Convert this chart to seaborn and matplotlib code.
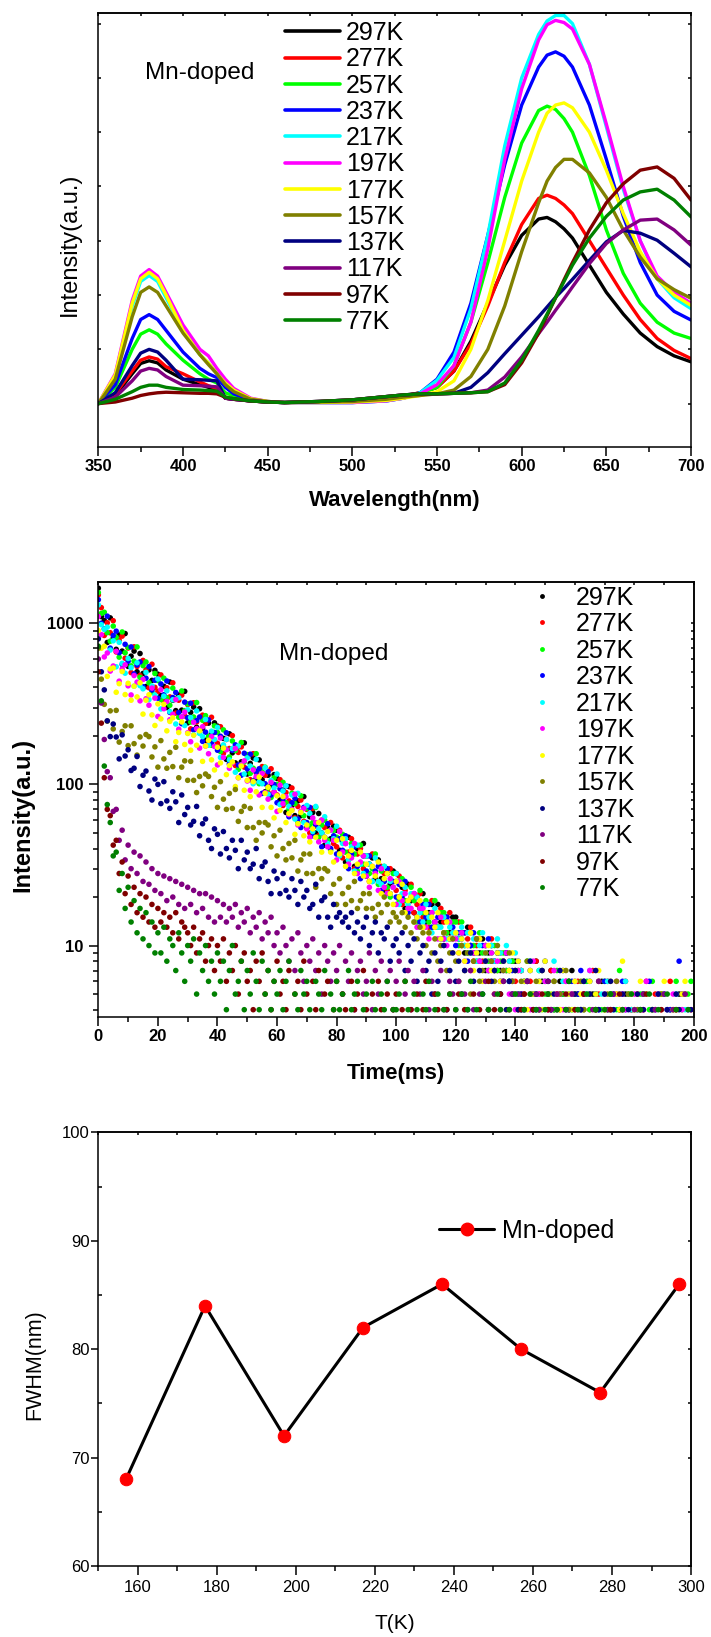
import numpy as np
import pandas as pd
import matplotlib
matplotlib.use("Agg")
import matplotlib.pyplot as plt
from matplotlib.lines import Line2D
from matplotlib.ticker import MultipleLocator, LogLocator, NullFormatter
import seaborn as sns

# ---------------- data ----------------
temps = ["297K", "277K", "257K", "237K", "217K", "197K", "177K", "157K", "137K", "117K", "97K", "77K"]
colors = ["#000000", "#FF0000", "#00FF00", "#0000FF", "#00FFFF", "#FF00FF",
          "#FFFF00", "#808000", "#000080", "#800080", "#800000", "#008000"]

# Panel 1: PL spectra (arbitrary units)
wavelength = [350, 360, 370, 375, 380, 385, 390, 400, 410, 415, 420, 425, 430, 440, 450,
              460, 480, 500, 520, 530, 540, 550, 560, 570, 580, 590, 600, 610, 615, 620,
              625, 630, 640, 650, 660, 670, 680, 690, 700]
I_297 = [0, 0.15, 0.55, 0.74, 0.79, 0.75, 0.62, 0.45, 0.35, 0.30, 0.25, 0.10, 0.08, 0.05, 0.03,
         0.02, 0.03, 0.05, 0.10, 0.14, 0.20, 0.30, 0.60, 1.15, 1.85, 2.55, 3.10, 3.40, 3.43, 3.35, 3.22, 3.05, 2.55, 2.05, 1.65, 1.30, 1.05, 0.88, 0.77]
I_277 = [0, 0.18, 0.60, 0.80, 0.86, 0.82, 0.68, 0.55, 0.40, 0.33, 0.28, 0.10, 0.08, 0.05, 0.03,
         0.02, 0.03, 0.05, 0.10, 0.14, 0.20, 0.30, 0.60, 1.10, 1.80, 2.60, 3.30, 3.78, 3.84, 3.78, 3.66, 3.50, 3.00, 2.50, 2.00, 1.55, 1.20, 0.98, 0.83]
I_257 = [0, 0.30, 1.00, 1.28, 1.36, 1.28, 1.10, 0.80, 0.55, 0.45, 0.38, 0.20, 0.14, 0.06, 0.03,
         0.02, 0.03, 0.04, 0.08, 0.12, 0.18, 0.30, 0.70, 1.50, 2.60, 3.80, 4.80, 5.40, 5.48, 5.42, 5.25, 5.00, 4.20, 3.20, 2.40, 1.85, 1.50, 1.30, 1.20]
I_237 = [0, 0.35, 1.20, 1.55, 1.64, 1.55, 1.35, 0.95, 0.65, 0.55, 0.48, 0.30, 0.18, 0.07, 0.03,
         0.02, 0.02, 0.02, 0.05, 0.10, 0.20, 0.45, 0.95, 1.85, 3.10, 4.40, 5.50, 6.20, 6.42, 6.48, 6.40, 6.20, 5.50, 4.50, 3.45, 2.60, 2.00, 1.70, 1.54]
I_217 = [0, 0.52, 1.80, 2.25, 2.36, 2.25, 1.95, 1.35, 0.90, 0.75, 0.55, 0.38, 0.25, 0.09, 0.04,
         0.02, 0.02, 0.02, 0.05, 0.10, 0.20, 0.43, 0.85, 1.75, 3.10, 4.75, 6.00, 6.80, 7.05, 7.15, 7.15, 7.00, 6.25, 5.10, 3.95, 3.00, 2.30, 1.95, 1.75]
I_197 = [0, 0.55, 1.90, 2.35, 2.47, 2.35, 2.05, 1.45, 1.00, 0.88, 0.65, 0.45, 0.28, 0.10, 0.04,
         0.02, 0.02, 0.02, 0.05, 0.10, 0.18, 0.35, 0.70, 1.50, 2.85, 4.50, 5.80, 6.70, 6.98, 7.06, 7.02, 6.90, 6.25, 5.15, 4.00, 3.00, 2.35, 2.05, 1.85]
I_177 = [0, 0.53, 1.85, 2.30, 2.42, 2.30, 2.00, 1.35, 0.90, 0.75, 0.55, 0.38, 0.25, 0.09, 0.04,
         0.02, 0.02, 0.03, 0.06, 0.10, 0.15, 0.22, 0.42, 1.00, 1.90, 3.00, 4.10, 5.00, 5.35, 5.50, 5.54, 5.45, 5.00, 4.30, 3.50, 2.80, 2.30, 2.00, 1.81]
I_157 = [0, 0.45, 1.60, 2.05, 2.15, 2.05, 1.80, 1.30, 0.90, 0.72, 0.55, 0.35, 0.22, 0.08, 0.04,
         0.02, 0.03, 0.04, 0.08, 0.12, 0.15, 0.18, 0.25, 0.50, 1.00, 1.80, 2.80, 3.70, 4.10, 4.35, 4.50, 4.50, 4.25, 3.80, 3.20, 2.70, 2.30, 2.10, 1.94]
I_137 = [0, 0.20, 0.70, 0.93, 1.00, 0.95, 0.80, 0.45, 0.44, 0.43, 0.42, 0.10, 0.08, 0.05, 0.03,
         0.02, 0.04, 0.07, 0.13, 0.16, 0.18, 0.18, 0.19, 0.30, 0.57, 0.92, 1.26, 1.60, 1.78, 1.96, 2.12, 2.29, 2.64, 2.98, 3.19, 3.14, 3.01, 2.77, 2.52]
I_117 = [0, 0.12, 0.42, 0.60, 0.65, 0.62, 0.50, 0.34, 0.33, 0.32, 0.31, 0.10, 0.08, 0.05, 0.03,
         0.02, 0.04, 0.07, 0.13, 0.16, 0.18, 0.18, 0.19, 0.20, 0.25, 0.49, 0.86, 1.29, 1.50, 1.72, 1.93, 2.15, 2.58, 2.95, 3.20, 3.38, 3.40, 3.20, 2.92]
I_97 = [0, 0.03, 0.10, 0.15, 0.18, 0.20, 0.21, 0.20, 0.19, 0.19, 0.18, 0.12, 0.09, 0.05, 0.03,
        0.02, 0.04, 0.07, 0.13, 0.16, 0.18, 0.18, 0.19, 0.20, 0.22, 0.35, 0.75, 1.30, 1.62, 1.95, 2.28, 2.60, 3.20, 3.70, 4.05, 4.30, 4.36, 4.15, 3.75]
I_77 = [0, 0.08, 0.22, 0.30, 0.34, 0.34, 0.30, 0.26, 0.25, 0.24, 0.23, 0.12, 0.09, 0.05, 0.03,
        0.02, 0.04, 0.07, 0.13, 0.16, 0.18, 0.18, 0.19, 0.20, 0.22, 0.38, 0.80, 1.35, 1.65, 1.95, 2.25, 2.55, 3.05, 3.45, 3.75, 3.90, 3.95, 3.75, 3.44]
spectra = [I_297, I_277, I_257, I_237, I_217, I_197, I_177, I_157, I_137, I_117, I_97, I_77]

# Panel 2: decay counts, one value per ms from t = 0 to 199 ms
dec_297 = [1650,1100,1040,760,1080,808,689,847,672,863,540,625,672,500,649,488,405,514,442,510,
           483,356,406,300,432,333,287,359,289,378,241,280,302,226,295,223,188,240,207,241,
           230,170,193,143,206,157,136,171,138,181,116,135,146,109,142,107,90,114,99,115,
           109,80,92,67,97,74,64,79,64,84,54,63,67,50,66,50,42,54,46,55,
           52,39,44,33,47,36,31,40,32,43,27,32,35,26,34,26,22,28,24,29,
           28,20,23,17,24,19,16,20,17,21,14,16,18,13,18,14,11,15,12,15,
           15,11,12,9,13,10,9,11,9,11,7,9,10,7,9,7,6,9,7,8,
           8,5,7,4,6,3,5,8,4,6,3,5,7,4,3,6,5,2,4,7,
           3,5,4,6,3,2,5,4,3,6,2,4,5,3,2,4,3,5,2,4,
           3,2,4,5,2,3,4,2,3,5,2,3,4,2,3,5,2,3,2,3]
dec_277 = [1500,1250,840,1007,873,1037,664,785,832,607,702,494,714,540,473,588,515,398,557,400,
           378,478,328,398,349,427,277,333,358,266,313,221,321,244,215,269,239,186,261,189,
           180,228,156,190,167,201,131,158,171,128,151,107,155,118,103,129,114,89,125,90,
           86,107,74,89,79,95,62,73,80,59,70,50,71,55,48,60,54,42,58,43,
           41,52,35,43,38,46,30,37,40,30,36,25,37,28,25,31,28,22,30,23,
           22,27,18,22,19,24,16,18,21,15,18,13,19,14,13,17,14,12,16,12,
           12,14,10,12,11,13,8,10,11,8,10,7,11,8,7,9,8,7,8,6,
           6,4,7,5,3,6,4,8,5,3,6,4,7,3,5,4,2,6,5,3,
           4,6,3,5,2,4,7,3,5,2,4,6,3,2,5,4,3,6,2,4,
           3,5,2,4,6,3,2,5,3,4,2,3,6,2,4,3,5,2,3,4]
dec_257 = [1550,1150,1170,874,774,960,818,616,883,656,709,544,582,713,462,546,575,427,373,488,
           441,336,456,345,310,396,341,261,380,287,316,244,262,322,210,250,267,199,175,231,
           210,160,218,165,148,186,162,124,182,138,153,117,126,155,101,120,128,95,83,110,
           100,76,103,77,70,88,76,58,85,64,71,55,58,72,47,56,60,45,39,52,
           47,37,49,38,34,43,37,29,42,32,36,28,30,37,24,29,31,23,20,28,
           25,19,26,19,17,23,19,14,22,16,19,14,16,19,13,16,16,12,11,14,
           14,10,14,10,9,12,10,8,12,9,10,8,9,10,7,8,9,7,6,8,
           5,7,4,6,8,3,5,4,7,2,5,6,3,4,7,2,5,3,6,4,
           5,3,4,2,6,4,3,5,2,4,6,3,5,2,4,7,3,2,5,3,
           4,2,5,3,2,4,6,2,3,5,2,4,3,2,6,3,4,2,5,6]
dec_237 = [1400,1000,922,1107,701,840,893,657,555,740,581,713,485,551,575,404,456,538,385,443,
           343,420,360,438,280,346,372,279,238,324,259,319,218,249,262,185,211,251,180,210,
           163,199,172,209,134,163,176,132,114,156,125,154,105,120,125,88,101,120,86,100,
           77,94,81,98,63,77,82,61,54,72,58,72,48,56,58,41,47,57,40,48,
           37,46,39,48,30,37,41,31,26,36,29,36,25,29,31,22,25,30,21,25,
           20,24,20,25,16,20,21,15,14,18,15,18,13,14,15,11,12,15,11,13,
           10,12,11,12,8,10,12,9,8,10,8,11,8,8,9,6,8,9,6,7,
           5,8,4,6,3,7,5,4,6,3,8,5,4,6,2,5,7,3,4,6,
           3,5,7,4,2,6,3,5,4,2,6,3,4,5,2,3,6,4,2,5,
           3,4,2,5,3,6,2,4,3,2,5,3,4,2,3,8,5,2,4,3]
dec_217 = [1300,980,918,946,682,778,537,762,564,490,605,530,407,569,410,392,496,336,408,359,
           451,294,353,381,283,335,237,345,263,232,291,260,203,286,207,198,253,175,214,190,
           226,147,176,190,142,167,119,173,132,116,146,130,101,143,104,101,127,87,106,95,
           116,75,91,98,73,86,61,88,67,58,74,66,51,73,53,50,63,43,52,46,
           55,36,43,46,34,41,29,42,32,28,36,32,25,35,25,24,31,21,25,23,
           28,18,21,23,18,21,14,20,16,14,18,15,12,17,13,13,15,11,13,12,
           12,11,13,10,12,9,11,8,10,12,9,7,10,8,11,9,7,10,8,6,
           9,5,7,4,6,8,3,5,7,4,6,3,5,8,4,2,6,3,5,4,
           6,3,4,2,5,7,3,4,2,5,3,6,2,4,3,5,2,6,3,4,
           2,4,3,5,2,3,4,2,5,3,2,4,3,2,5,3,2,4,3,2]
dec_197 = [1100,850,618,654,505,543,670,437,520,552,409,359,474,431,330,448,340,310,396,343,
           264,387,295,327,252,272,336,220,263,281,209,184,243,222,168,228,173,155,198,172,
           132,194,147,164,126,136,167,110,132,140,105,92,123,112,86,117,89,81,103,89,
           68,99,76,84,65,70,87,56,68,71,53,47,62,58,44,60,45,41,52,45,
           34,51,38,43,32,35,43,28,33,36,27,23,31,28,22,30,23,21,26,23,
           18,25,19,21,17,17,21,13,17,17,13,11,16,14,11,15,11,10,14,11,
           11,9,12,8,10,7,9,11,8,6,10,7,9,5,8,6,7,9,5,6,
           4,7,5,3,6,4,8,2,5,3,6,4,3,7,2,5,4,6,3,5,
           6,2,4,5,3,7,2,4,6,3,5,2,4,3,6,2,5,4,3,2,
           5,3,2,4,6,3,2,4,5,2,3,4,2,5,3,2,4,3,2,3]
dec_177 = [900,700,720,468,520,528,373,422,502,361,424,333,407,349,427,273,333,360,270,232,
           316,255,314,215,246,259,184,210,244,177,207,163,202,175,215,139,173,188,142,123,
           170,136,168,115,131,138,97,110,130,92,106,84,104,90,111,72,88,96,72,62,
           85,69,84,58,66,69,49,57,67,48,56,44,53,47,58,38,47,51,38,33,
           45,37,46,31,36,39,28,32,38,27,32,25,31,27,33,21,26,28,21,18,
           25,20,24,16,19,20,14,15,19,13,16,12,15,13,16,11,12,14,11,9,
           12,9,11,8,10,12,7,9,11,6,8,10,7,5,9,6,8,4,7,9,
           5,8,3,6,4,7,5,2,6,4,8,3,5,6,2,4,7,3,5,4,
           6,3,5,4,2,6,3,5,7,2,4,3,6,2,5,4,8,3,2,5,
           4,2,6,3,5,2,4,3,2,5,6,3,2,4,3,2,5,6,3,2]
dec_157 = [700,450,314,247,286,221,288,183,213,231,174,231,179,152,197,173,204,198,148,171,
           128,187,144,126,158,129,170,110,128,140,106,139,106,89,112,98,116,112,84,96,
           72,104,81,70,88,71,93,59,68,73,54,71,54,45,58,50,58,56,41,48,
           36,52,40,34,43,35,45,29,34,37,28,37,28,23,30,26,30,29,21,24,
           18,26,21,18,23,19,25,17,19,21,17,21,17,15,18,16,20,18,14,16,
           15,14,16,13,15,12,14,11,13,12,10,12,9,11,8,10,12,7,9,11,
           8,6,10,7,9,5,8,11,6,7,9,4,8,6,10,5,7,3,9,6,
           7,4,6,3,8,5,2,6,4,7,3,5,4,6,2,5,3,7,4,2,
           5,3,6,4,2,5,3,4,6,2,3,5,4,2,6,3,4,2,5,3,
           2,4,3,5,2,3,4,2,3,5,2,3,2,4,3,2,3,5,2,3]
dec_137 = [800,500,386,248,198,237,197,144,203,150,164,122,126,149,97,114,121,91,80,108,
           100,76,104,79,71,90,78,58,86,65,72,56,59,73,48,57,61,45,40,53,
           49,37,51,40,35,45,39,30,45,34,38,30,32,40,26,31,33,25,21,29,
           26,21,28,22,20,26,22,18,25,20,22,17,18,24,15,19,20,15,13,18,
           15,16,14,15,13,16,12,14,11,13,15,10,12,14,9,12,11,13,8,10,
           11,9,12,7,10,8,11,6,9,10,7,8,5,9,6,8,10,4,7,9,
           6,8,5,7,4,9,6,3,7,5,8,4,6,7,3,5,8,4,6,5,
           7,4,5,3,6,8,4,5,2,7,3,6,4,5,3,7,2,4,6,3,
           5,2,4,6,3,5,2,7,4,3,5,2,6,4,3,2,5,3,4,2,
           3,5,2,4,3,2,4,3,5,2,3,4,2,3,5,4,2,3,2,4]
dec_117 = [600,320,190,120,110,68,70,45,52,34,42,30,38,28,36,25,33,24,30,22,
           28,21,27,19,26,20,25,18,24,17,23,18,22,16,21,17,21,15,20,14,
           19,15,18,14,17,15,18,13,16,14,17,12,15,13,16,11,14,12,15,10,
           12,9,13,10,8,11,7,12,9,6,10,8,11,7,9,5,10,8,6,9,
           7,10,5,8,6,9,4,7,8,5,6,9,4,7,5,8,3,6,7,4,
           6,8,3,5,7,4,6,2,5,7,3,4,6,5,2,7,4,3,6,5,
           4,6,2,5,3,7,4,2,5,3,6,4,2,5,3,4,6,2,3,5,
           3,5,2,4,6,3,2,5,4,2,3,6,4,2,5,3,2,4,3,5,
           2,4,3,5,2,3,4,2,6,3,2,4,3,5,2,3,4,2,3,2,
           4,2,3,5,2,3,2,4,3,2,5,3,2,4,2,3,2,5,3,2]
dec_97 = [500,240,110,70,64,42,45,28,33,21,27,18,23,16,21,15,20,14,18,13,
          17,14,16,13,15,12,16,11,14,13,12,10,13,9,11,12,8,10,11,7,
          10,8,11,6,9,7,10,5,8,9,6,7,4,8,6,9,5,7,4,6,
          8,5,6,4,7,3,5,6,4,8,5,3,6,4,7,2,5,6,3,4,
          6,3,5,4,2,6,4,5,3,7,4,2,5,3,6,4,2,5,3,4,
          5,2,4,6,3,4,2,5,3,4,6,2,3,5,4,2,3,4,5,2,
          3,5,2,4,3,2,5,3,4,2,3,6,2,4,3,5,2,3,4,2,
          3,2,4,5,2,3,4,2,3,5,2,4,3,2,4,3,2,5,3,2,
          4,2,3,5,2,3,2,4,3,2,3,2,4,3,2,5,3,2,3,2,
          2,3,4,2,5,3,2,3,2,4,3,2,3,2,4,2,3,2,3,2]
dec_77 = [720,330,130,75,58,36,38,22,28,17,23,14,19,12,17,11,16,10,14,9,
          12,9,13,8,11,10,7,12,9,6,10,8,11,5,9,7,10,6,8,5,
          9,6,8,4,7,10,5,6,8,4,7,5,9,6,4,8,5,7,4,6,
          5,7,4,6,8,3,5,4,7,5,6,4,3,6,5,4,7,3,5,4,
          6,4,5,3,7,4,5,6,3,4,5,2,6,4,3,5,4,6,3,4,
          4,5,3,6,4,2,5,4,3,5,4,6,2,4,5,3,4,2,5,3,
          4,3,5,2,4,6,3,4,2,5,3,4,2,3,5,4,2,3,4,2,
          5,3,2,4,3,5,2,4,3,2,4,5,3,2,4,3,2,4,6,3,
          2,4,3,2,5,3,2,4,3,2,4,3,5,2,3,2,4,3,2,5,
          3,2,4,3,2,5,3,2,4,2,3,5,2,3,4,2,3,2,4,3]
decays = [dec_297, dec_277, dec_257, dec_237, dec_217, dec_197,
          dec_177, dec_157, dec_137, dec_117, dec_97, dec_77]
time_ms = np.arange(200)

# Panel 3: FWHM vs temperature
T_K = [157, 177, 197, 217, 237, 257, 277, 297]
fwhm_nm = [68, 84, 72, 82, 86, 80, 76, 86]

for s in spectra:
    assert len(s) == len(wavelength), len(s)
for i, d in enumerate(decays):
    assert len(d) == 200, (i, len(d))

# ---------------- style ----------------
sns.set_theme(style="ticks")
plt.rcParams["font.family"] = ["Liberation Sans", "DejaVu Sans"]
plt.rcParams.update({
    "axes.edgecolor": "black", "axes.labelcolor": "black", "text.color": "black",
    "xtick.color": "black", "ytick.color": "black", "axes.linewidth": 1.1,
    "xtick.major.width": 1.1, "ytick.major.width": 1.1,
    "xtick.minor.width": 1.1, "ytick.minor.width": 1.1,
})
palette = dict(zip(temps, colors))

fig = plt.figure(figsize=(7.11, 16.37), dpi=100)
fig.patch.set_facecolor("white")
ax1 = fig.add_axes([0.1383, 0.7269, 0.8336, 0.2653])
ax2 = fig.add_axes([0.1383, 0.3787, 0.8378, 0.2657])
ax3 = fig.add_axes([0.1383, 0.04337, 0.8336, 0.2649])

# ---------------- panel 1 ----------------
spec_df = pd.concat([pd.DataFrame({"wl": wavelength, "I": s, "T": t})
                     for s, t in zip(spectra, temps)], ignore_index=True)
sns.lineplot(data=spec_df, x="wl", y="I", hue="T", hue_order=temps, palette=palette,
             estimator=None, sort=False, lw=2.4, legend=False, ax=ax1)
ax1.set_xlim(350, 700)
ax1.set_ylim(-0.8, 7.2)
ax1.set_xticks(np.arange(350, 701, 50))
ax1.set_xticklabels([str(v) for v in range(350, 701, 50)], fontweight="bold", fontsize=12)
ax1.xaxis.set_minor_locator(MultipleLocator(25))
ax1.tick_params(axis="x", which="major", direction="out", length=6.5, pad=1.8, top=False)
ax1.tick_params(axis="x", which="minor", direction="out", length=3.6, top=False)
ax1.set_yticks(range(0, 8))
ax1.set_yticklabels([])
ax1.tick_params(axis="y", which="major", direction="in", length=2.5, left=True, right=True)
sec1 = ax1.secondary_xaxis("top")
sec1.set_xticks(np.arange(350, 701, 25))
sec1.set_xticklabels([])
sec1.tick_params(direction="in", length=2.5)
ax1.set_xlabel("Wavelength(nm)", fontsize=16, fontweight="bold")
ax1.set_ylabel("Intensity(a.u.)", fontsize=17)
ax1.xaxis.set_label_coords(0.5, -0.100)
ax1.yaxis.set_label_coords(-0.029, 0.467)
h1 = [Line2D([], [], color=c, lw=2.6) for c in colors]
ax1.legend(h1, temps, loc="upper left", bbox_to_anchor=(0.315, 0.981), frameon=False,
           fontsize=18, handlelength=2.2, handletextpad=0.24, labelspacing=0.09,
           borderpad=0, borderaxespad=0)
ax1.text(0.078, 0.861, "Mn-doped", transform=ax1.transAxes, fontsize=17.5,
         ha="left", va="center")

# ---------------- panel 2 ----------------
dec_df = pd.concat([pd.DataFrame({"t": time_ms, "I": d, "T": t})
                    for d, t in zip(decays, temps)], ignore_index=True)
sns.scatterplot(data=dec_df, x="t", y="I", hue="T", hue_order=temps, palette=palette,
                s=16, linewidth=0, legend=False, ax=ax2)
ax2.set_yscale("log")
ax2.set_xlim(0, 200)
ax2.set_ylim(3.6, 1800)
ax2.set_xticks(np.arange(0, 201, 20))
ax2.set_xticklabels([str(v) for v in range(0, 201, 20)], fontweight="bold", fontsize=12)
ax2.xaxis.set_minor_locator(MultipleLocator(10))
ax2.set_yticks([10, 100, 1000])
ax2.set_yticklabels(["10", "100", "1000"], fontweight="bold", fontsize=12)
ax2.yaxis.set_minor_locator(LogLocator(base=10, subs=np.arange(2, 10)))
ax2.yaxis.set_minor_formatter(NullFormatter())
ax2.tick_params(axis="both", which="major", direction="out", length=6.5, top=False, right=False)
ax2.tick_params(axis="both", which="minor", direction="out", length=3.6, top=False, right=False)
ax2.tick_params(axis="x", which="major", pad=1.8)
ax2.tick_params(axis="y", which="major", pad=4)
sec2x = ax2.secondary_xaxis("top")
sec2x.set_xticks(np.arange(0, 201, 10))
sec2x.set_xticklabels([])
sec2x.tick_params(direction="in", length=2.5)
sec2y = ax2.secondary_yaxis("right")
sec2y.set_yticks([10, 100, 1000])
sec2y.set_yticklabels([])
sec2y.yaxis.set_minor_locator(LogLocator(base=10, subs=np.arange(2, 10)))
sec2y.yaxis.set_minor_formatter(NullFormatter())
sec2y.tick_params(which="both", direction="in", length=2.5)
ax2.set_xlabel("Time(ms)", fontsize=16, fontweight="bold")
ax2.set_ylabel("Intensity(a.u.)", fontsize=17, fontweight="bold")
ax2.xaxis.set_label_coords(0.5, -0.105)
ax2.yaxis.set_label_coords(-0.108, 0.464)
h2 = [Line2D([], [], ls="none", marker="o", markersize=3.5, markeredgewidth=0, color=c)
      for c in colors]
ax2.legend(h2, temps, loc="upper left", bbox_to_anchor=(0.703, 0.992), frameon=False,
           fontsize=18, handlelength=2.0, handletextpad=0.36, labelspacing=0.1,
           borderpad=0, borderaxespad=0)
ax2.text(0.3035, 0.8356, "Mn-doped", transform=ax2.transAxes, fontsize=17.5,
         ha="left", va="center")

# ---------------- panel 3 ----------------
fw_df = pd.DataFrame({"T": T_K, "FWHM": fwhm_nm})
sns.lineplot(data=fw_df, x="T", y="FWHM", color="black", lw=2.2, marker="o",
             markersize=9, markerfacecolor="red", markeredgecolor="red",
             legend=False, ax=ax3)
ax3.set_xlim(150, 300)
ax3.set_ylim(60, 100)
ax3.set_xticks(np.arange(160, 301, 20))
ax3.set_xticklabels([str(v) for v in range(160, 301, 20)], fontsize=12)
ax3.xaxis.set_minor_locator(MultipleLocator(10))
ax3.set_yticks(np.arange(60, 101, 10))
ax3.set_yticklabels([str(v) for v in range(60, 101, 10)], fontsize=12)
ax3.yaxis.set_minor_locator(MultipleLocator(5))
ax3.tick_params(axis="x", which="major", direction="out", length=6.5, pad=3.5, top=False)
ax3.tick_params(axis="x", which="minor", direction="out", length=3.6, top=False)
ax3.tick_params(axis="y", which="major", direction="out", length=5, pad=1, right=False)
ax3.tick_params(axis="y", which="minor", direction="in", length=3, right=False)
sec3x = ax3.secondary_xaxis("top")
sec3x.set_xticks(np.arange(150, 301, 10))
sec3x.set_xticklabels([])
sec3x.tick_params(direction="in", length=2.5)
sec3y = ax3.secondary_yaxis("right")
sec3y.set_yticks(np.arange(60, 101, 5))
sec3y.set_yticklabels([])
sec3y.tick_params(direction="in", length=2.5)
ax3.set_xlabel("T(K)", fontsize=15)
ax3.set_ylabel("FWHM(nm)", fontsize=15.5)
ax3.xaxis.set_label_coords(0.5, -0.111)
ax3.yaxis.set_label_coords(-0.089, 0.4635)
h3 = [Line2D([], [], color="black", lw=2.2, marker="o", markersize=9,
             markerfacecolor="red", markeredgecolor="red")]
ax3.legend(h3, ["Mn-doped"], loc="upper left", bbox_to_anchor=(0.575, 0.800),
           frameon=False, fontsize=18, handlelength=2.2, handletextpad=0.32,
           borderpad=0, borderaxespad=0)

fig.savefig("out.png", dpi=100, facecolor="white")
